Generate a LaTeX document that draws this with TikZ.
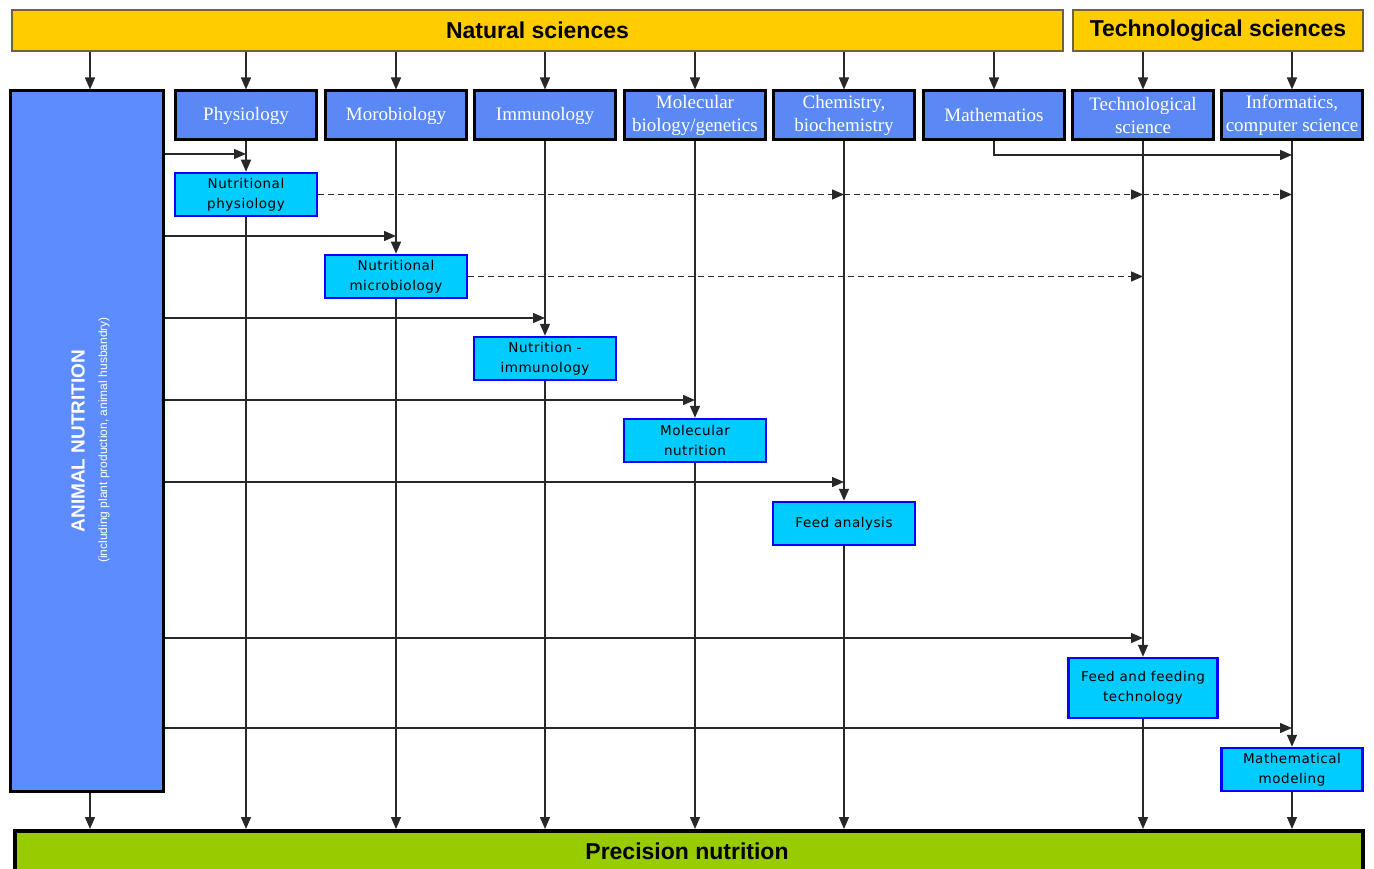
\documentclass[tikz,border=0pt]{standalone}
\usepackage{fontspec}
\setmainfont{Liberation Serif}
\newfontfamily\arial{Liberation Sans}
\newfontfamily\verd{DejaVu Sans}[LetterSpace=4.0]
\usetikzlibrary{arrows.meta}
\definecolor{ybar}{HTML}{FFCC00}
\definecolor{ybord}{RGB}{110,100,60}
\definecolor{topfill}{RGB}{90,137,245}
\definecolor{leftfill}{RGB}{92,140,255}
\definecolor{cyanfill}{HTML}{00CCFF}
\definecolor{cyanbord}{HTML}{0000FF}
\definecolor{greenbar}{HTML}{99CC00}
\definecolor{arr}{RGB}{40,40,40}
\tikzset{
  headbar/.style={draw=ybord, line width=1.5pt, fill=ybar, inner sep=0pt,
    font=\arial\bfseries\fontsize{23}{26}\selectfont},
  topbox/.style={draw=black, line width=3pt, fill=topfill, minimum width=141pt,
    minimum height=49pt, inner sep=0pt, text=white, align=center,
    font=\fontsize{19}{23}\selectfont},
  cbox/.style={draw=cyanbord, line width=2.5pt, fill=cyanfill, minimum width=142pt,
    minimum height=43pt, inner sep=0pt, align=center,
    font=\verd\fontsize{13.5}{20}\selectfont},
  conn/.style={draw=arr, line width=1.5pt, -{Triangle[length=12pt,width=10pt]}},
  dconn/.style={conn, dash pattern=on 6pt off 4pt},
  plain/.style={draw=arr, line width=1.5pt}
}
\begin{document}
\begin{tikzpicture}[x=1pt,y=-1pt]
\useasboundingbox (0,0) rectangle (1374,869);
% header bars
\node[headbar, minimum width=1051pt, minimum height=41pt] (nat) at (537.5,30.5) {Natural sciences};
\node[headbar, minimum width=290pt, minimum height=41pt] (tech) at (1218,30.5) {Technological sciences};
% left box
\node[draw=black, line width=3pt, fill=leftfill, minimum width=153pt, minimum height=700pt, inner sep=0pt] (lbox) at (86.5,441) {};
\node[rotate=90, text=white, font=\arial\bfseries\fontsize{19}{21}\selectfont] (ltitle) at (78,441) {ANIMAL NUTRITION};
\node[rotate=90, text=white, font=\arial\fontsize{12}{14}\selectfont] (lsub) at (104,440) {(including plant production, animal husbandry)};
% bottom bar
\node[draw=black, line width=4pt, fill=greenbar, minimum width=1348pt, minimum height=50pt, inner sep=0pt, anchor=north west] (prec) at (13,829) {};
\node[font=\arial\bfseries\fontsize{23}{26}\selectfont] (prect) at (687,851) {Precision nutrition};
% top boxes
\node[topbox] (phys) at (246,115.5) {Physiology};
\node[topbox] (micro) at (396,115.5) {Morobiology};
\node[topbox] (immu) at (545,115.5) {Immunology};
\node[topbox] (mol) at (695,115.5) {Molecular\\biology/genetics};
\node[topbox] (chem) at (844,115.5) {Chemistry,\\biochemistry};
\node[topbox] (math) at (994,115.5) {Mathematios};
\node[topbox] (techs) at (1143,115.5) {Technological\\science};
\node[topbox] (info) at (1292,115.5) {Informatics,\\computer science};
% cyan boxes
\node[cbox] (nphys) at (246,194.5) {Nutritional\\physiology};
\node[cbox] (nmicro) at (396,276.5) {Nutritional\\microbiology};
\node[cbox] (nimmu) at (545,358.5) {Nutrition -\\immunology};
\node[cbox] (nmol) at (695,440.5) {Molecular\\nutrition};
\node[cbox] (feed) at (844,523.5) {Feed analysis};
\node[cbox, minimum width=149pt, minimum height=60pt] (ftech) at (1143,688) {Feed and feeding\\technology};
\node[cbox, minimum width=141pt] (mmod) at (1292,769.5) {Mathematical\\modeling};
% arrows from header bars
\coordinate (lc) at (90,0);
\draw[conn] (nat.south -| lc) -- (lbox.north -| lc);
\foreach \n in {phys,micro,immu,mol,chem,math} \draw[conn] (nat.south -| \n) -- (\n.north);
\foreach \n in {techs,info} \draw[conn] (tech.south -| \n) -- (\n.north);
% columns top box -> cyan box
\draw[conn] (phys.south) -- (nphys.north);
\draw[conn] (micro.south) -- (nmicro.north);
\draw[conn] (immu.south) -- (nimmu.north);
\draw[conn] (mol.south) -- (nmol.north);
\draw[conn] (chem.south) -- (feed.north);
\draw[conn] (techs.south) -- (ftech.north);
\draw[conn] (info.south) -- (mmod.north);
% cyan box -> bottom
\foreach \n in {nphys,nmicro,nimmu,nmol,feed,ftech,mmod} \draw[conn] (\n.south) -- (prec.north -| \n.south);
\draw[conn] (lbox.south -| lc) -- (prec.north -| lc);
% horizontal arrows from left box
\coordinate (h1) at (246,154);
\coordinate (h2) at (396,236);
\coordinate (h3) at (545,318);
\coordinate (h4) at (695,400);
\coordinate (h5) at (844,482);
\coordinate (h6) at (1143,638);
\coordinate (h7) at (1292,728);
\foreach \h in {h1,h2,h3,h4,h5,h6,h7} \draw[conn] (lbox.east |- \h) -- (\h);
% mathematics -> informatics
\coordinate (mt) at (994,155);
\draw[conn] (math.south) -- (mt) -- (mt -| info);
% dashed arrows
\coordinate (d1) at (844,194.5);
\coordinate (d2) at (1143,194.5);
\coordinate (d3) at (1292,194.5);
\draw[dconn] (nphys.east) -- (d1);
\draw[dconn] (d1) -- (d2);
\draw[dconn] (d2) -- (d3);
\coordinate (d4) at (1143,276.5);
\draw[dconn] (nmicro.east) -- (d4);
\end{tikzpicture}
\end{document}
